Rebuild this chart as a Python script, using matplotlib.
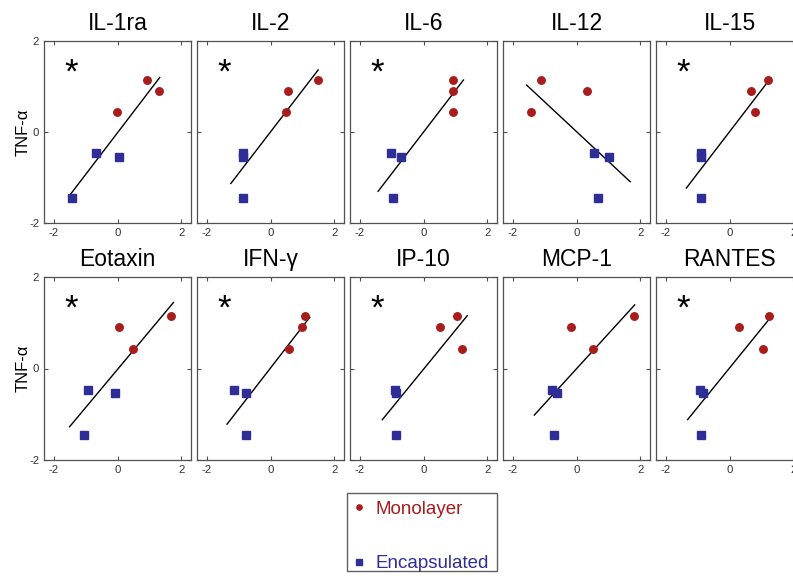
import numpy as np
import matplotlib
matplotlib.use("Agg")
import matplotlib.pyplot as plt
from matplotlib.lines import Line2D
from matplotlib.patches import Rectangle

plt.rcParams['font.family'] = ['Liberation Sans', 'DejaVu Sans']

# ---------------- data ----------------
cytokines = ["IL-1ra", "IL-2", "IL-6", "IL-12", "IL-15",
             "Eotaxin", "IFN-\u03b3", "IP-10", "MCP-1", "RANTES"]
significant = [True, True, True, False, True,
               True, True, True, False, True]

# TNF-alpha values (shared across panels)
mono_y = [1.15, 0.91, 0.43]
enc_y = [-0.47, -0.54, -1.46]

mono_x = [
    [0.92, 1.29, -0.01],
    [1.50, 0.56, 0.50],
    [0.91, 0.91, 0.91],
    [-1.10, 0.34, -1.41],
    [1.21, 0.68, 0.80],
    [1.68, 0.04, 0.50],
    [1.07, 0.98, 0.58],
    [1.04, 0.53, 1.19],
    [1.80, -0.18, 0.53],
    [1.24, 0.29, 1.04],
]
enc_x = [
    [-0.68, 0.04, -1.43],
    [-0.85, -0.85, -0.85],
    [-1.02, -0.70, -0.97],
    [0.54, 1.02, 0.66],
    [-0.90, -0.90, -0.90],
    [-0.92, -0.09, -1.04],
    [-1.14, -0.77, -0.77],
    [-0.90, -0.86, -0.86],
    [-0.77, -0.62, -0.69],
    [-0.91, -0.83, -0.88],
]
# x-span of the drawn regression lines
fit_lo = [-1.51, -1.24, -1.42, -1.56, -1.35, -1.50, -1.36, -1.29, -1.32, -1.31]
fit_hi = [1.32, 1.49, 1.25, 1.68, 1.29, 1.75, 1.23, 1.37, 1.82, 1.33]

ticks = [-2, 0, 2]
tick_labels = ["-2", "0", "2"]

# ---------------- figure ----------------
W, H = 793, 579
fig = plt.figure(figsize=(W / 100, H / 100), dpi=100)

red = "#a81c1c"
blue = "#2e2e96"
spine_col = "#505050"

lefts = [44, 197, 350, 503, 656]
aw = 147
rows = [(41, 223), (277, 460)]

for i, name in enumerate(cytokines):
    r, c = divmod(i, 5)
    top, bot = rows[r]
    ax = fig.add_axes([lefts[c] / W, 1 - bot / H, aw / W, (bot - top) / H])
    ax.set_xlim(-2.3, 2.3)
    ax.set_ylim(-2, 2)

    mx = np.array(mono_x[i]); ex = np.array(enc_x[i])
    allx = np.concatenate([mx, ex])
    ally = np.concatenate([mono_y, enc_y])
    k, b = np.polyfit(allx, ally, 1)
    lx = np.array([fit_lo[i], fit_hi[i]])
    ax.plot(lx, k * lx + b, color="black", lw=1.0, zorder=2)

    ax.plot(mx, mono_y, 'o', color=red, ms=5.4, mec=red, zorder=3)
    ax.plot(ex, enc_y, 's', color=blue, ms=5.4, mec=blue, zorder=3)

    if significant[i]:
        ax.text(-1.45, 1.08, "*", fontsize=25, ha="center", va="baseline",
                color="black")

    ax.set_title(name, fontsize=16.5, pad=8)
    ax.set_xticks(ticks)
    ax.set_xticklabels(tick_labels)
    ax.set_yticks(ticks)
    if c == 0:
        ax.set_yticklabels(tick_labels)
        ax.set_ylabel("TNF-\u03b1", fontsize=12, labelpad=-1)
    else:
        ax.set_yticklabels([])
    ax.tick_params(direction="in", length=3, width=0.8, top=True, right=True,
                   labelsize=8.2, colors=spine_col, pad=3.5)
    ax.tick_params(axis='x', labelcolor="#333333")
    ax.tick_params(axis='y', labelcolor="#333333")
    for s in ax.spines.values():
        s.set_color(spine_col)
        s.set_linewidth(0.9)

# legend: frame drawn separately
fig.patches.append(Rectangle((347 / W, 1 - 571 / H), 150 / W, 78 / H,
                             transform=fig.transFigure, fill=False,
                             edgecolor="#606060", linewidth=1.0))
handles = [
    Line2D([], [], marker='o', ls='none', color=red, ms=3.8, label="Monolayer"),
    Line2D([], [], marker='s', ls='none', color=blue, ms=3.8, label="Encapsulated"),
]
leg = fig.legend(handles=handles, loc="upper left",
                 bbox_to_anchor=(348 / W, 1 - 495 / H), borderaxespad=0,
                 frameon=False, fontsize=13.5, labelspacing=2.0,
                 handlelength=0.6, handletextpad=0.55, borderpad=0.3,
                 labelcolor=[red, blue])

fig.savefig("out.png", dpi=100)
